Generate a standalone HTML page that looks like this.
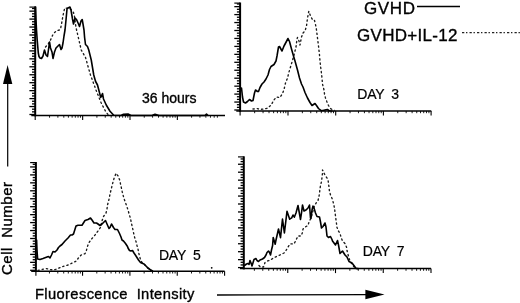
<!DOCTYPE html>
<html><head><meta charset="utf-8"><style>
html,body{margin:0;padding:0;background:#fff;}
.tx{filter:grayscale(1);}
body{width:520px;height:303px;overflow:hidden;position:relative;font-family:"Liberation Sans",sans-serif;color:#000;}
svg{position:absolute;left:0;top:0;}
.t{position:absolute;white-space:pre;line-height:1;-webkit-text-stroke:0.35px #000;}
</style></head><body>
<svg width="520" height="303" viewBox="0 0 520 303">
<line x1="35.20" y1="6.50" x2="35.20" y2="116.30" stroke="#000" stroke-width="2.0" />
<line x1="29.40" y1="114.50" x2="35.20" y2="114.50" stroke="#000" stroke-width="1.3" />
<line x1="32.00" y1="111.85" x2="35.20" y2="111.85" stroke="#000" stroke-width="1.3" />
<line x1="32.00" y1="109.20" x2="35.20" y2="109.20" stroke="#000" stroke-width="1.3" />
<line x1="29.40" y1="106.55" x2="35.20" y2="106.55" stroke="#000" stroke-width="1.3" />
<line x1="32.00" y1="103.90" x2="35.20" y2="103.90" stroke="#000" stroke-width="1.3" />
<line x1="32.00" y1="101.25" x2="35.20" y2="101.25" stroke="#000" stroke-width="1.3" />
<line x1="29.40" y1="98.60" x2="35.20" y2="98.60" stroke="#000" stroke-width="1.3" />
<line x1="32.00" y1="95.95" x2="35.20" y2="95.95" stroke="#000" stroke-width="1.3" />
<line x1="32.00" y1="93.30" x2="35.20" y2="93.30" stroke="#000" stroke-width="1.3" />
<line x1="29.40" y1="90.65" x2="35.20" y2="90.65" stroke="#000" stroke-width="1.3" />
<line x1="32.00" y1="88.00" x2="35.20" y2="88.00" stroke="#000" stroke-width="1.3" />
<line x1="32.00" y1="85.35" x2="35.20" y2="85.35" stroke="#000" stroke-width="1.3" />
<line x1="29.40" y1="82.70" x2="35.20" y2="82.70" stroke="#000" stroke-width="1.3" />
<line x1="32.00" y1="80.05" x2="35.20" y2="80.05" stroke="#000" stroke-width="1.3" />
<line x1="32.00" y1="77.40" x2="35.20" y2="77.40" stroke="#000" stroke-width="1.3" />
<line x1="29.40" y1="74.75" x2="35.20" y2="74.75" stroke="#000" stroke-width="1.3" />
<line x1="32.00" y1="72.10" x2="35.20" y2="72.10" stroke="#000" stroke-width="1.3" />
<line x1="32.00" y1="69.45" x2="35.20" y2="69.45" stroke="#000" stroke-width="1.3" />
<line x1="29.40" y1="66.80" x2="35.20" y2="66.80" stroke="#000" stroke-width="1.3" />
<line x1="32.00" y1="64.15" x2="35.20" y2="64.15" stroke="#000" stroke-width="1.3" />
<line x1="32.00" y1="61.50" x2="35.20" y2="61.50" stroke="#000" stroke-width="1.3" />
<line x1="29.40" y1="58.85" x2="35.20" y2="58.85" stroke="#000" stroke-width="1.3" />
<line x1="32.00" y1="56.20" x2="35.20" y2="56.20" stroke="#000" stroke-width="1.3" />
<line x1="32.00" y1="53.55" x2="35.20" y2="53.55" stroke="#000" stroke-width="1.3" />
<line x1="29.40" y1="50.90" x2="35.20" y2="50.90" stroke="#000" stroke-width="1.3" />
<line x1="32.00" y1="48.25" x2="35.20" y2="48.25" stroke="#000" stroke-width="1.3" />
<line x1="32.00" y1="45.60" x2="35.20" y2="45.60" stroke="#000" stroke-width="1.3" />
<line x1="29.40" y1="42.95" x2="35.20" y2="42.95" stroke="#000" stroke-width="1.3" />
<line x1="32.00" y1="40.30" x2="35.20" y2="40.30" stroke="#000" stroke-width="1.3" />
<line x1="32.00" y1="37.65" x2="35.20" y2="37.65" stroke="#000" stroke-width="1.3" />
<line x1="29.40" y1="35.00" x2="35.20" y2="35.00" stroke="#000" stroke-width="1.3" />
<line x1="32.00" y1="32.35" x2="35.20" y2="32.35" stroke="#000" stroke-width="1.3" />
<line x1="32.00" y1="29.70" x2="35.20" y2="29.70" stroke="#000" stroke-width="1.3" />
<line x1="29.40" y1="27.05" x2="35.20" y2="27.05" stroke="#000" stroke-width="1.3" />
<line x1="32.00" y1="24.40" x2="35.20" y2="24.40" stroke="#000" stroke-width="1.3" />
<line x1="32.00" y1="21.75" x2="35.20" y2="21.75" stroke="#000" stroke-width="1.3" />
<line x1="29.40" y1="19.10" x2="35.20" y2="19.10" stroke="#000" stroke-width="1.3" />
<line x1="32.00" y1="16.45" x2="35.20" y2="16.45" stroke="#000" stroke-width="1.3" />
<line x1="32.00" y1="13.80" x2="35.20" y2="13.80" stroke="#000" stroke-width="1.3" />
<line x1="29.40" y1="11.15" x2="35.20" y2="11.15" stroke="#000" stroke-width="1.3" />
<line x1="32.00" y1="8.50" x2="35.20" y2="8.50" stroke="#000" stroke-width="1.3" />
<line x1="29.40" y1="7.10" x2="35.20" y2="7.10" stroke="#000" stroke-width="1.15" />
<line x1="31.30" y1="115.50" x2="225.00" y2="115.50" stroke="#000" stroke-width="1.5" />
<line x1="49.55" y1="115.50" x2="49.55" y2="117.70" stroke="#000" stroke-width="0.9" />
<line x1="57.89" y1="115.50" x2="57.89" y2="117.70" stroke="#000" stroke-width="0.9" />
<line x1="63.81" y1="115.50" x2="63.81" y2="117.70" stroke="#000" stroke-width="0.9" />
<line x1="68.40" y1="115.50" x2="68.40" y2="117.70" stroke="#000" stroke-width="0.9" />
<line x1="72.15" y1="115.50" x2="72.15" y2="117.70" stroke="#000" stroke-width="0.9" />
<line x1="75.32" y1="115.50" x2="75.32" y2="117.70" stroke="#000" stroke-width="0.9" />
<line x1="78.06" y1="115.50" x2="78.06" y2="117.70" stroke="#000" stroke-width="0.9" />
<line x1="80.48" y1="115.50" x2="80.48" y2="117.70" stroke="#000" stroke-width="0.9" />
<line x1="82.65" y1="115.50" x2="82.65" y2="120.00" stroke="#000" stroke-width="1.1" />
<line x1="96.90" y1="115.50" x2="96.90" y2="117.70" stroke="#000" stroke-width="0.9" />
<line x1="105.24" y1="115.50" x2="105.24" y2="117.70" stroke="#000" stroke-width="0.9" />
<line x1="111.16" y1="115.50" x2="111.16" y2="117.70" stroke="#000" stroke-width="0.9" />
<line x1="115.75" y1="115.50" x2="115.75" y2="117.70" stroke="#000" stroke-width="0.9" />
<line x1="119.50" y1="115.50" x2="119.50" y2="117.70" stroke="#000" stroke-width="0.9" />
<line x1="122.67" y1="115.50" x2="122.67" y2="117.70" stroke="#000" stroke-width="0.9" />
<line x1="125.41" y1="115.50" x2="125.41" y2="117.70" stroke="#000" stroke-width="0.9" />
<line x1="127.83" y1="115.50" x2="127.83" y2="117.70" stroke="#000" stroke-width="0.9" />
<line x1="130.00" y1="115.50" x2="130.00" y2="120.00" stroke="#000" stroke-width="1.1" />
<line x1="144.25" y1="115.50" x2="144.25" y2="117.70" stroke="#000" stroke-width="0.9" />
<line x1="152.59" y1="115.50" x2="152.59" y2="117.70" stroke="#000" stroke-width="0.9" />
<line x1="158.51" y1="115.50" x2="158.51" y2="117.70" stroke="#000" stroke-width="0.9" />
<line x1="163.10" y1="115.50" x2="163.10" y2="117.70" stroke="#000" stroke-width="0.9" />
<line x1="166.85" y1="115.50" x2="166.85" y2="117.70" stroke="#000" stroke-width="0.9" />
<line x1="170.02" y1="115.50" x2="170.02" y2="117.70" stroke="#000" stroke-width="0.9" />
<line x1="172.76" y1="115.50" x2="172.76" y2="117.70" stroke="#000" stroke-width="0.9" />
<line x1="175.18" y1="115.50" x2="175.18" y2="117.70" stroke="#000" stroke-width="0.9" />
<line x1="177.35" y1="115.50" x2="177.35" y2="120.00" stroke="#000" stroke-width="1.1" />
<line x1="191.60" y1="115.50" x2="191.60" y2="117.70" stroke="#000" stroke-width="0.9" />
<line x1="199.94" y1="115.50" x2="199.94" y2="117.70" stroke="#000" stroke-width="0.9" />
<line x1="205.86" y1="115.50" x2="205.86" y2="117.70" stroke="#000" stroke-width="0.9" />
<line x1="210.45" y1="115.50" x2="210.45" y2="117.70" stroke="#000" stroke-width="0.9" />
<line x1="214.20" y1="115.50" x2="214.20" y2="117.70" stroke="#000" stroke-width="0.9" />
<line x1="217.37" y1="115.50" x2="217.37" y2="117.70" stroke="#000" stroke-width="0.9" />
<line x1="35.20" y1="115.50" x2="35.20" y2="120.00" stroke="#000" stroke-width="1.1" />
<line x1="240.10" y1="2.50" x2="240.10" y2="111.80" stroke="#000" stroke-width="2.0" />
<line x1="234.30" y1="110.00" x2="240.10" y2="110.00" stroke="#000" stroke-width="1.3" />
<line x1="236.90" y1="107.35" x2="240.10" y2="107.35" stroke="#000" stroke-width="1.3" />
<line x1="236.90" y1="104.70" x2="240.10" y2="104.70" stroke="#000" stroke-width="1.3" />
<line x1="234.30" y1="102.05" x2="240.10" y2="102.05" stroke="#000" stroke-width="1.3" />
<line x1="236.90" y1="99.40" x2="240.10" y2="99.40" stroke="#000" stroke-width="1.3" />
<line x1="236.90" y1="96.75" x2="240.10" y2="96.75" stroke="#000" stroke-width="1.3" />
<line x1="234.30" y1="94.10" x2="240.10" y2="94.10" stroke="#000" stroke-width="1.3" />
<line x1="236.90" y1="91.45" x2="240.10" y2="91.45" stroke="#000" stroke-width="1.3" />
<line x1="236.90" y1="88.80" x2="240.10" y2="88.80" stroke="#000" stroke-width="1.3" />
<line x1="234.30" y1="86.15" x2="240.10" y2="86.15" stroke="#000" stroke-width="1.3" />
<line x1="236.90" y1="83.50" x2="240.10" y2="83.50" stroke="#000" stroke-width="1.3" />
<line x1="236.90" y1="80.85" x2="240.10" y2="80.85" stroke="#000" stroke-width="1.3" />
<line x1="234.30" y1="78.20" x2="240.10" y2="78.20" stroke="#000" stroke-width="1.3" />
<line x1="236.90" y1="75.55" x2="240.10" y2="75.55" stroke="#000" stroke-width="1.3" />
<line x1="236.90" y1="72.90" x2="240.10" y2="72.90" stroke="#000" stroke-width="1.3" />
<line x1="234.30" y1="70.25" x2="240.10" y2="70.25" stroke="#000" stroke-width="1.3" />
<line x1="236.90" y1="67.60" x2="240.10" y2="67.60" stroke="#000" stroke-width="1.3" />
<line x1="236.90" y1="64.95" x2="240.10" y2="64.95" stroke="#000" stroke-width="1.3" />
<line x1="234.30" y1="62.30" x2="240.10" y2="62.30" stroke="#000" stroke-width="1.3" />
<line x1="236.90" y1="59.65" x2="240.10" y2="59.65" stroke="#000" stroke-width="1.3" />
<line x1="236.90" y1="57.00" x2="240.10" y2="57.00" stroke="#000" stroke-width="1.3" />
<line x1="234.30" y1="54.35" x2="240.10" y2="54.35" stroke="#000" stroke-width="1.3" />
<line x1="236.90" y1="51.70" x2="240.10" y2="51.70" stroke="#000" stroke-width="1.3" />
<line x1="236.90" y1="49.05" x2="240.10" y2="49.05" stroke="#000" stroke-width="1.3" />
<line x1="234.30" y1="46.40" x2="240.10" y2="46.40" stroke="#000" stroke-width="1.3" />
<line x1="236.90" y1="43.75" x2="240.10" y2="43.75" stroke="#000" stroke-width="1.3" />
<line x1="236.90" y1="41.10" x2="240.10" y2="41.10" stroke="#000" stroke-width="1.3" />
<line x1="234.30" y1="38.45" x2="240.10" y2="38.45" stroke="#000" stroke-width="1.3" />
<line x1="236.90" y1="35.80" x2="240.10" y2="35.80" stroke="#000" stroke-width="1.3" />
<line x1="236.90" y1="33.15" x2="240.10" y2="33.15" stroke="#000" stroke-width="1.3" />
<line x1="234.30" y1="30.50" x2="240.10" y2="30.50" stroke="#000" stroke-width="1.3" />
<line x1="236.90" y1="27.85" x2="240.10" y2="27.85" stroke="#000" stroke-width="1.3" />
<line x1="236.90" y1="25.20" x2="240.10" y2="25.20" stroke="#000" stroke-width="1.3" />
<line x1="234.30" y1="22.55" x2="240.10" y2="22.55" stroke="#000" stroke-width="1.3" />
<line x1="236.90" y1="19.90" x2="240.10" y2="19.90" stroke="#000" stroke-width="1.3" />
<line x1="236.90" y1="17.25" x2="240.10" y2="17.25" stroke="#000" stroke-width="1.3" />
<line x1="234.30" y1="14.60" x2="240.10" y2="14.60" stroke="#000" stroke-width="1.3" />
<line x1="236.90" y1="11.95" x2="240.10" y2="11.95" stroke="#000" stroke-width="1.3" />
<line x1="236.90" y1="9.30" x2="240.10" y2="9.30" stroke="#000" stroke-width="1.3" />
<line x1="234.30" y1="6.65" x2="240.10" y2="6.65" stroke="#000" stroke-width="1.3" />
<line x1="236.90" y1="4.00" x2="240.10" y2="4.00" stroke="#000" stroke-width="1.3" />
<line x1="234.30" y1="3.10" x2="240.10" y2="3.10" stroke="#000" stroke-width="1.15" />
<line x1="236.30" y1="111.00" x2="431.30" y2="111.00" stroke="#000" stroke-width="1.5" />
<line x1="254.66" y1="111.00" x2="254.66" y2="113.20" stroke="#000" stroke-width="0.9" />
<line x1="263.06" y1="111.00" x2="263.06" y2="113.20" stroke="#000" stroke-width="0.9" />
<line x1="269.02" y1="111.00" x2="269.02" y2="113.20" stroke="#000" stroke-width="0.9" />
<line x1="273.64" y1="111.00" x2="273.64" y2="113.20" stroke="#000" stroke-width="0.9" />
<line x1="277.42" y1="111.00" x2="277.42" y2="113.20" stroke="#000" stroke-width="0.9" />
<line x1="280.61" y1="111.00" x2="280.61" y2="113.20" stroke="#000" stroke-width="0.9" />
<line x1="283.38" y1="111.00" x2="283.38" y2="113.20" stroke="#000" stroke-width="0.9" />
<line x1="285.82" y1="111.00" x2="285.82" y2="113.20" stroke="#000" stroke-width="0.9" />
<line x1="288.00" y1="111.00" x2="288.00" y2="115.50" stroke="#000" stroke-width="1.1" />
<line x1="302.36" y1="111.00" x2="302.36" y2="113.20" stroke="#000" stroke-width="0.9" />
<line x1="310.76" y1="111.00" x2="310.76" y2="113.20" stroke="#000" stroke-width="0.9" />
<line x1="316.72" y1="111.00" x2="316.72" y2="113.20" stroke="#000" stroke-width="0.9" />
<line x1="321.34" y1="111.00" x2="321.34" y2="113.20" stroke="#000" stroke-width="0.9" />
<line x1="325.12" y1="111.00" x2="325.12" y2="113.20" stroke="#000" stroke-width="0.9" />
<line x1="328.31" y1="111.00" x2="328.31" y2="113.20" stroke="#000" stroke-width="0.9" />
<line x1="331.08" y1="111.00" x2="331.08" y2="113.20" stroke="#000" stroke-width="0.9" />
<line x1="333.52" y1="111.00" x2="333.52" y2="113.20" stroke="#000" stroke-width="0.9" />
<line x1="335.70" y1="111.00" x2="335.70" y2="115.50" stroke="#000" stroke-width="1.1" />
<line x1="350.06" y1="111.00" x2="350.06" y2="113.20" stroke="#000" stroke-width="0.9" />
<line x1="358.46" y1="111.00" x2="358.46" y2="113.20" stroke="#000" stroke-width="0.9" />
<line x1="364.42" y1="111.00" x2="364.42" y2="113.20" stroke="#000" stroke-width="0.9" />
<line x1="369.04" y1="111.00" x2="369.04" y2="113.20" stroke="#000" stroke-width="0.9" />
<line x1="372.82" y1="111.00" x2="372.82" y2="113.20" stroke="#000" stroke-width="0.9" />
<line x1="376.01" y1="111.00" x2="376.01" y2="113.20" stroke="#000" stroke-width="0.9" />
<line x1="378.78" y1="111.00" x2="378.78" y2="113.20" stroke="#000" stroke-width="0.9" />
<line x1="381.22" y1="111.00" x2="381.22" y2="113.20" stroke="#000" stroke-width="0.9" />
<line x1="383.40" y1="111.00" x2="383.40" y2="115.50" stroke="#000" stroke-width="1.1" />
<line x1="397.76" y1="111.00" x2="397.76" y2="113.20" stroke="#000" stroke-width="0.9" />
<line x1="406.16" y1="111.00" x2="406.16" y2="113.20" stroke="#000" stroke-width="0.9" />
<line x1="412.12" y1="111.00" x2="412.12" y2="113.20" stroke="#000" stroke-width="0.9" />
<line x1="416.74" y1="111.00" x2="416.74" y2="113.20" stroke="#000" stroke-width="0.9" />
<line x1="420.52" y1="111.00" x2="420.52" y2="113.20" stroke="#000" stroke-width="0.9" />
<line x1="423.71" y1="111.00" x2="423.71" y2="113.20" stroke="#000" stroke-width="0.9" />
<line x1="426.48" y1="111.00" x2="426.48" y2="113.20" stroke="#000" stroke-width="0.9" />
<line x1="428.92" y1="111.00" x2="428.92" y2="113.20" stroke="#000" stroke-width="0.9" />
<line x1="431.10" y1="111.00" x2="431.10" y2="115.50" stroke="#000" stroke-width="1.1" />
<line x1="240.10" y1="111.00" x2="240.10" y2="115.50" stroke="#000" stroke-width="1.1" />
<line x1="35.90" y1="162.00" x2="35.90" y2="272.10" stroke="#000" stroke-width="2.0" />
<line x1="30.10" y1="270.30" x2="35.90" y2="270.30" stroke="#000" stroke-width="1.3" />
<line x1="32.70" y1="267.65" x2="35.90" y2="267.65" stroke="#000" stroke-width="1.3" />
<line x1="32.70" y1="265.00" x2="35.90" y2="265.00" stroke="#000" stroke-width="1.3" />
<line x1="30.10" y1="262.35" x2="35.90" y2="262.35" stroke="#000" stroke-width="1.3" />
<line x1="32.70" y1="259.70" x2="35.90" y2="259.70" stroke="#000" stroke-width="1.3" />
<line x1="32.70" y1="257.05" x2="35.90" y2="257.05" stroke="#000" stroke-width="1.3" />
<line x1="30.10" y1="254.40" x2="35.90" y2="254.40" stroke="#000" stroke-width="1.3" />
<line x1="32.70" y1="251.75" x2="35.90" y2="251.75" stroke="#000" stroke-width="1.3" />
<line x1="32.70" y1="249.10" x2="35.90" y2="249.10" stroke="#000" stroke-width="1.3" />
<line x1="30.10" y1="246.45" x2="35.90" y2="246.45" stroke="#000" stroke-width="1.3" />
<line x1="32.70" y1="243.80" x2="35.90" y2="243.80" stroke="#000" stroke-width="1.3" />
<line x1="32.70" y1="241.15" x2="35.90" y2="241.15" stroke="#000" stroke-width="1.3" />
<line x1="30.10" y1="238.50" x2="35.90" y2="238.50" stroke="#000" stroke-width="1.3" />
<line x1="32.70" y1="235.85" x2="35.90" y2="235.85" stroke="#000" stroke-width="1.3" />
<line x1="32.70" y1="233.20" x2="35.90" y2="233.20" stroke="#000" stroke-width="1.3" />
<line x1="30.10" y1="230.55" x2="35.90" y2="230.55" stroke="#000" stroke-width="1.3" />
<line x1="32.70" y1="227.90" x2="35.90" y2="227.90" stroke="#000" stroke-width="1.3" />
<line x1="32.70" y1="225.25" x2="35.90" y2="225.25" stroke="#000" stroke-width="1.3" />
<line x1="30.10" y1="222.60" x2="35.90" y2="222.60" stroke="#000" stroke-width="1.3" />
<line x1="32.70" y1="219.95" x2="35.90" y2="219.95" stroke="#000" stroke-width="1.3" />
<line x1="32.70" y1="217.30" x2="35.90" y2="217.30" stroke="#000" stroke-width="1.3" />
<line x1="30.10" y1="214.65" x2="35.90" y2="214.65" stroke="#000" stroke-width="1.3" />
<line x1="32.70" y1="212.00" x2="35.90" y2="212.00" stroke="#000" stroke-width="1.3" />
<line x1="32.70" y1="209.35" x2="35.90" y2="209.35" stroke="#000" stroke-width="1.3" />
<line x1="30.10" y1="206.70" x2="35.90" y2="206.70" stroke="#000" stroke-width="1.3" />
<line x1="32.70" y1="204.05" x2="35.90" y2="204.05" stroke="#000" stroke-width="1.3" />
<line x1="32.70" y1="201.40" x2="35.90" y2="201.40" stroke="#000" stroke-width="1.3" />
<line x1="30.10" y1="198.75" x2="35.90" y2="198.75" stroke="#000" stroke-width="1.3" />
<line x1="32.70" y1="196.10" x2="35.90" y2="196.10" stroke="#000" stroke-width="1.3" />
<line x1="32.70" y1="193.45" x2="35.90" y2="193.45" stroke="#000" stroke-width="1.3" />
<line x1="30.10" y1="190.80" x2="35.90" y2="190.80" stroke="#000" stroke-width="1.3" />
<line x1="32.70" y1="188.15" x2="35.90" y2="188.15" stroke="#000" stroke-width="1.3" />
<line x1="32.70" y1="185.50" x2="35.90" y2="185.50" stroke="#000" stroke-width="1.3" />
<line x1="30.10" y1="182.85" x2="35.90" y2="182.85" stroke="#000" stroke-width="1.3" />
<line x1="32.70" y1="180.20" x2="35.90" y2="180.20" stroke="#000" stroke-width="1.3" />
<line x1="32.70" y1="177.55" x2="35.90" y2="177.55" stroke="#000" stroke-width="1.3" />
<line x1="30.10" y1="174.90" x2="35.90" y2="174.90" stroke="#000" stroke-width="1.3" />
<line x1="32.70" y1="172.25" x2="35.90" y2="172.25" stroke="#000" stroke-width="1.3" />
<line x1="32.70" y1="169.60" x2="35.90" y2="169.60" stroke="#000" stroke-width="1.3" />
<line x1="30.10" y1="166.95" x2="35.90" y2="166.95" stroke="#000" stroke-width="1.3" />
<line x1="32.70" y1="164.30" x2="35.90" y2="164.30" stroke="#000" stroke-width="1.3" />
<line x1="30.10" y1="162.60" x2="35.90" y2="162.60" stroke="#000" stroke-width="1.15" />
<line x1="31.20" y1="271.30" x2="224.60" y2="271.30" stroke="#000" stroke-width="1.5" />
<line x1="49.45" y1="271.30" x2="49.45" y2="273.50" stroke="#000" stroke-width="0.9" />
<line x1="57.79" y1="271.30" x2="57.79" y2="273.50" stroke="#000" stroke-width="0.9" />
<line x1="63.71" y1="271.30" x2="63.71" y2="273.50" stroke="#000" stroke-width="0.9" />
<line x1="68.30" y1="271.30" x2="68.30" y2="273.50" stroke="#000" stroke-width="0.9" />
<line x1="72.05" y1="271.30" x2="72.05" y2="273.50" stroke="#000" stroke-width="0.9" />
<line x1="75.22" y1="271.30" x2="75.22" y2="273.50" stroke="#000" stroke-width="0.9" />
<line x1="77.96" y1="271.30" x2="77.96" y2="273.50" stroke="#000" stroke-width="0.9" />
<line x1="80.38" y1="271.30" x2="80.38" y2="273.50" stroke="#000" stroke-width="0.9" />
<line x1="82.55" y1="271.30" x2="82.55" y2="275.80" stroke="#000" stroke-width="1.1" />
<line x1="96.80" y1="271.30" x2="96.80" y2="273.50" stroke="#000" stroke-width="0.9" />
<line x1="105.14" y1="271.30" x2="105.14" y2="273.50" stroke="#000" stroke-width="0.9" />
<line x1="111.06" y1="271.30" x2="111.06" y2="273.50" stroke="#000" stroke-width="0.9" />
<line x1="115.65" y1="271.30" x2="115.65" y2="273.50" stroke="#000" stroke-width="0.9" />
<line x1="119.40" y1="271.30" x2="119.40" y2="273.50" stroke="#000" stroke-width="0.9" />
<line x1="122.57" y1="271.30" x2="122.57" y2="273.50" stroke="#000" stroke-width="0.9" />
<line x1="125.31" y1="271.30" x2="125.31" y2="273.50" stroke="#000" stroke-width="0.9" />
<line x1="127.73" y1="271.30" x2="127.73" y2="273.50" stroke="#000" stroke-width="0.9" />
<line x1="129.90" y1="271.30" x2="129.90" y2="275.80" stroke="#000" stroke-width="1.1" />
<line x1="144.15" y1="271.30" x2="144.15" y2="273.50" stroke="#000" stroke-width="0.9" />
<line x1="152.49" y1="271.30" x2="152.49" y2="273.50" stroke="#000" stroke-width="0.9" />
<line x1="158.41" y1="271.30" x2="158.41" y2="273.50" stroke="#000" stroke-width="0.9" />
<line x1="163.00" y1="271.30" x2="163.00" y2="273.50" stroke="#000" stroke-width="0.9" />
<line x1="166.75" y1="271.30" x2="166.75" y2="273.50" stroke="#000" stroke-width="0.9" />
<line x1="169.92" y1="271.30" x2="169.92" y2="273.50" stroke="#000" stroke-width="0.9" />
<line x1="172.66" y1="271.30" x2="172.66" y2="273.50" stroke="#000" stroke-width="0.9" />
<line x1="175.08" y1="271.30" x2="175.08" y2="273.50" stroke="#000" stroke-width="0.9" />
<line x1="177.25" y1="271.30" x2="177.25" y2="275.80" stroke="#000" stroke-width="1.1" />
<line x1="191.50" y1="271.30" x2="191.50" y2="273.50" stroke="#000" stroke-width="0.9" />
<line x1="199.84" y1="271.30" x2="199.84" y2="273.50" stroke="#000" stroke-width="0.9" />
<line x1="205.76" y1="271.30" x2="205.76" y2="273.50" stroke="#000" stroke-width="0.9" />
<line x1="210.35" y1="271.30" x2="210.35" y2="273.50" stroke="#000" stroke-width="0.9" />
<line x1="214.10" y1="271.30" x2="214.10" y2="273.50" stroke="#000" stroke-width="0.9" />
<line x1="217.27" y1="271.30" x2="217.27" y2="273.50" stroke="#000" stroke-width="0.9" />
<line x1="220.01" y1="271.30" x2="220.01" y2="273.50" stroke="#000" stroke-width="0.9" />
<line x1="222.43" y1="271.30" x2="222.43" y2="273.50" stroke="#000" stroke-width="0.9" />
<line x1="224.60" y1="271.30" x2="224.60" y2="275.80" stroke="#000" stroke-width="1.1" />
<line x1="35.90" y1="271.30" x2="35.90" y2="275.80" stroke="#000" stroke-width="1.1" />
<line x1="243.80" y1="156.30" x2="243.80" y2="269.40" stroke="#000" stroke-width="2.0" />
<line x1="238.00" y1="267.60" x2="243.80" y2="267.60" stroke="#000" stroke-width="1.3" />
<line x1="240.60" y1="264.95" x2="243.80" y2="264.95" stroke="#000" stroke-width="1.3" />
<line x1="240.60" y1="262.30" x2="243.80" y2="262.30" stroke="#000" stroke-width="1.3" />
<line x1="238.00" y1="259.65" x2="243.80" y2="259.65" stroke="#000" stroke-width="1.3" />
<line x1="240.60" y1="257.00" x2="243.80" y2="257.00" stroke="#000" stroke-width="1.3" />
<line x1="240.60" y1="254.35" x2="243.80" y2="254.35" stroke="#000" stroke-width="1.3" />
<line x1="238.00" y1="251.70" x2="243.80" y2="251.70" stroke="#000" stroke-width="1.3" />
<line x1="240.60" y1="249.05" x2="243.80" y2="249.05" stroke="#000" stroke-width="1.3" />
<line x1="240.60" y1="246.40" x2="243.80" y2="246.40" stroke="#000" stroke-width="1.3" />
<line x1="238.00" y1="243.75" x2="243.80" y2="243.75" stroke="#000" stroke-width="1.3" />
<line x1="240.60" y1="241.10" x2="243.80" y2="241.10" stroke="#000" stroke-width="1.3" />
<line x1="240.60" y1="238.45" x2="243.80" y2="238.45" stroke="#000" stroke-width="1.3" />
<line x1="238.00" y1="235.80" x2="243.80" y2="235.80" stroke="#000" stroke-width="1.3" />
<line x1="240.60" y1="233.15" x2="243.80" y2="233.15" stroke="#000" stroke-width="1.3" />
<line x1="240.60" y1="230.50" x2="243.80" y2="230.50" stroke="#000" stroke-width="1.3" />
<line x1="238.00" y1="227.85" x2="243.80" y2="227.85" stroke="#000" stroke-width="1.3" />
<line x1="240.60" y1="225.20" x2="243.80" y2="225.20" stroke="#000" stroke-width="1.3" />
<line x1="240.60" y1="222.55" x2="243.80" y2="222.55" stroke="#000" stroke-width="1.3" />
<line x1="238.00" y1="219.90" x2="243.80" y2="219.90" stroke="#000" stroke-width="1.3" />
<line x1="240.60" y1="217.25" x2="243.80" y2="217.25" stroke="#000" stroke-width="1.3" />
<line x1="240.60" y1="214.60" x2="243.80" y2="214.60" stroke="#000" stroke-width="1.3" />
<line x1="238.00" y1="211.95" x2="243.80" y2="211.95" stroke="#000" stroke-width="1.3" />
<line x1="240.60" y1="209.30" x2="243.80" y2="209.30" stroke="#000" stroke-width="1.3" />
<line x1="240.60" y1="206.65" x2="243.80" y2="206.65" stroke="#000" stroke-width="1.3" />
<line x1="238.00" y1="204.00" x2="243.80" y2="204.00" stroke="#000" stroke-width="1.3" />
<line x1="240.60" y1="201.35" x2="243.80" y2="201.35" stroke="#000" stroke-width="1.3" />
<line x1="240.60" y1="198.70" x2="243.80" y2="198.70" stroke="#000" stroke-width="1.3" />
<line x1="238.00" y1="196.05" x2="243.80" y2="196.05" stroke="#000" stroke-width="1.3" />
<line x1="240.60" y1="193.40" x2="243.80" y2="193.40" stroke="#000" stroke-width="1.3" />
<line x1="240.60" y1="190.75" x2="243.80" y2="190.75" stroke="#000" stroke-width="1.3" />
<line x1="238.00" y1="188.10" x2="243.80" y2="188.10" stroke="#000" stroke-width="1.3" />
<line x1="240.60" y1="185.45" x2="243.80" y2="185.45" stroke="#000" stroke-width="1.3" />
<line x1="240.60" y1="182.80" x2="243.80" y2="182.80" stroke="#000" stroke-width="1.3" />
<line x1="238.00" y1="180.15" x2="243.80" y2="180.15" stroke="#000" stroke-width="1.3" />
<line x1="240.60" y1="177.50" x2="243.80" y2="177.50" stroke="#000" stroke-width="1.3" />
<line x1="240.60" y1="174.85" x2="243.80" y2="174.85" stroke="#000" stroke-width="1.3" />
<line x1="238.00" y1="172.20" x2="243.80" y2="172.20" stroke="#000" stroke-width="1.3" />
<line x1="240.60" y1="169.55" x2="243.80" y2="169.55" stroke="#000" stroke-width="1.3" />
<line x1="240.60" y1="166.90" x2="243.80" y2="166.90" stroke="#000" stroke-width="1.3" />
<line x1="238.00" y1="164.25" x2="243.80" y2="164.25" stroke="#000" stroke-width="1.3" />
<line x1="240.60" y1="161.60" x2="243.80" y2="161.60" stroke="#000" stroke-width="1.3" />
<line x1="240.60" y1="158.95" x2="243.80" y2="158.95" stroke="#000" stroke-width="1.3" />
<line x1="238.00" y1="156.90" x2="243.80" y2="156.90" stroke="#000" stroke-width="1.15" />
<line x1="240.00" y1="268.60" x2="431.00" y2="268.60" stroke="#000" stroke-width="1.5" />
<line x1="254.37" y1="268.60" x2="254.37" y2="270.80" stroke="#000" stroke-width="0.9" />
<line x1="262.78" y1="268.60" x2="262.78" y2="270.80" stroke="#000" stroke-width="0.9" />
<line x1="268.75" y1="268.60" x2="268.75" y2="270.80" stroke="#000" stroke-width="0.9" />
<line x1="273.38" y1="268.60" x2="273.38" y2="270.80" stroke="#000" stroke-width="0.9" />
<line x1="277.16" y1="268.60" x2="277.16" y2="270.80" stroke="#000" stroke-width="0.9" />
<line x1="280.35" y1="268.60" x2="280.35" y2="270.80" stroke="#000" stroke-width="0.9" />
<line x1="283.12" y1="268.60" x2="283.12" y2="270.80" stroke="#000" stroke-width="0.9" />
<line x1="285.57" y1="268.60" x2="285.57" y2="270.80" stroke="#000" stroke-width="0.9" />
<line x1="287.75" y1="268.60" x2="287.75" y2="273.10" stroke="#000" stroke-width="1.1" />
<line x1="302.12" y1="268.60" x2="302.12" y2="270.80" stroke="#000" stroke-width="0.9" />
<line x1="310.53" y1="268.60" x2="310.53" y2="270.80" stroke="#000" stroke-width="0.9" />
<line x1="316.50" y1="268.60" x2="316.50" y2="270.80" stroke="#000" stroke-width="0.9" />
<line x1="321.13" y1="268.60" x2="321.13" y2="270.80" stroke="#000" stroke-width="0.9" />
<line x1="324.91" y1="268.60" x2="324.91" y2="270.80" stroke="#000" stroke-width="0.9" />
<line x1="328.10" y1="268.60" x2="328.10" y2="270.80" stroke="#000" stroke-width="0.9" />
<line x1="330.87" y1="268.60" x2="330.87" y2="270.80" stroke="#000" stroke-width="0.9" />
<line x1="333.32" y1="268.60" x2="333.32" y2="270.80" stroke="#000" stroke-width="0.9" />
<line x1="335.50" y1="268.60" x2="335.50" y2="273.10" stroke="#000" stroke-width="1.1" />
<line x1="349.87" y1="268.60" x2="349.87" y2="270.80" stroke="#000" stroke-width="0.9" />
<line x1="358.28" y1="268.60" x2="358.28" y2="270.80" stroke="#000" stroke-width="0.9" />
<line x1="364.25" y1="268.60" x2="364.25" y2="270.80" stroke="#000" stroke-width="0.9" />
<line x1="368.88" y1="268.60" x2="368.88" y2="270.80" stroke="#000" stroke-width="0.9" />
<line x1="372.66" y1="268.60" x2="372.66" y2="270.80" stroke="#000" stroke-width="0.9" />
<line x1="375.85" y1="268.60" x2="375.85" y2="270.80" stroke="#000" stroke-width="0.9" />
<line x1="378.62" y1="268.60" x2="378.62" y2="270.80" stroke="#000" stroke-width="0.9" />
<line x1="381.07" y1="268.60" x2="381.07" y2="270.80" stroke="#000" stroke-width="0.9" />
<line x1="383.25" y1="268.60" x2="383.25" y2="273.10" stroke="#000" stroke-width="1.1" />
<line x1="397.62" y1="268.60" x2="397.62" y2="270.80" stroke="#000" stroke-width="0.9" />
<line x1="406.03" y1="268.60" x2="406.03" y2="270.80" stroke="#000" stroke-width="0.9" />
<line x1="412.00" y1="268.60" x2="412.00" y2="270.80" stroke="#000" stroke-width="0.9" />
<line x1="416.63" y1="268.60" x2="416.63" y2="270.80" stroke="#000" stroke-width="0.9" />
<line x1="420.41" y1="268.60" x2="420.41" y2="270.80" stroke="#000" stroke-width="0.9" />
<line x1="423.60" y1="268.60" x2="423.60" y2="270.80" stroke="#000" stroke-width="0.9" />
<line x1="426.37" y1="268.60" x2="426.37" y2="270.80" stroke="#000" stroke-width="0.9" />
<line x1="428.82" y1="268.60" x2="428.82" y2="270.80" stroke="#000" stroke-width="0.9" />
<line x1="431.00" y1="268.60" x2="431.00" y2="273.10" stroke="#000" stroke-width="1.1" />
<polyline points="45.50,47.00 48.00,44.50 50.50,40.00 52.50,35.50 54.00,33.00 57.00,30.50 59.50,30.00 60.80,27.50 61.50,24.00 62.20,20.00 62.90,16.00 63.80,12.00 64.70,8.00 66.30,8.20 68.50,8.00 71.00,9.50 73.50,12.50 74.50,16.50 76.00,27.50 78.00,36.00 81.25,50.00 85.50,57.50 90.50,75.00 96.00,90.00 101.00,102.50 105.50,111.25 108.00,114.50 110.00,115.50" fill="none" stroke="#1a1a1a" stroke-width="1.35" stroke-linejoin="round" stroke-linecap="round" stroke-dasharray="1.3 3.0"/>
<polyline points="253.00,109.00 256.50,108.50 260.00,109.30 264.50,109.00 268.00,108.00 271.50,104.50 273.50,100.50 276.50,97.00 280.00,97.50 282.50,93.50 284.00,89.50 285.50,83.00 287.50,78.00 289.00,72.00 290.50,67.00 292.00,62.00 294.00,55.00 296.00,47.00 297.00,39.00 297.50,37.50 299.00,41.00 300.00,45.00 301.50,37.00 303.00,33.00 305.00,31.00 306.50,26.00 307.50,18.00 308.80,11.30 310.50,16.00 313.00,20.50 314.50,20.50 315.50,24.50 316.50,30.00 317.50,38.00 318.50,46.00 319.50,55.00 320.00,61.00 320.50,66.00 321.20,71.00 322.00,78.00 322.50,84.00 323.00,86.00 324.00,90.00 324.50,94.00 325.50,98.00 327.00,102.00 328.50,105.50 330.50,108.50 332.50,109.80 334.50,110.50" fill="none" stroke="#1a1a1a" stroke-width="1.35" stroke-linejoin="round" stroke-linecap="round" stroke-dasharray="1.3 3.0"/>
<polyline points="38.00,270.50 42.00,269.50 46.00,268.50 50.00,269.50 53.50,270.00 57.00,269.00 61.00,267.10 65.00,265.80 69.00,264.80 73.00,262.50 76.20,261.10 78.50,257.90 81.00,255.10 85.00,253.70 86.40,250.50 87.50,246.30 89.00,242.50 92.00,238.50 95.00,235.00 98.00,231.00 100.50,227.50 102.00,221.00 103.50,216.50 106.00,213.00 107.00,209.00 107.50,205.00 108.50,201.50 109.50,197.00 110.00,194.00 111.00,190.00 112.00,186.00 113.00,182.00 114.00,178.50 116.00,173.30 118.00,175.80 119.50,179.50 121.00,186.00 122.30,192.00 123.70,197.50 125.20,202.00 126.70,206.00 128.00,210.00 129.30,214.50 130.50,218.50 131.30,222.50 132.10,226.30 133.00,230.00 133.80,234.00 134.80,238.00 136.00,241.50 137.00,245.50 138.00,249.00 138.50,252.00 139.50,256.00 140.50,259.50 142.00,262.50 144.50,264.50 147.00,267.50 150.00,270.00 152.00,271.30" fill="none" stroke="#1a1a1a" stroke-width="1.35" stroke-linejoin="round" stroke-linecap="round" stroke-dasharray="1.3 3.0"/>
<polyline points="259.00,265.50 260.50,267.00 263.50,267.00 265.00,262.50 267.50,261.00 270.50,260.00 273.50,258.00 278.50,255.50 281.00,254.50 284.00,253.00 286.00,250.50 288.00,247.00 290.00,244.00 292.00,243.80 294.00,244.00 296.50,239.00 298.00,236.00 301.00,236.00 302.50,232.50 303.00,229.00 306.00,226.50 308.00,225.50 309.00,222.00 311.00,218.00 314.50,205.50 316.50,202.50 318.00,200.50 319.00,196.50 319.50,193.00 320.00,189.00 320.50,185.50 321.50,181.50 322.00,177.50 322.50,173.00 322.50,170.00 325.00,175.00 328.00,179.50 328.50,183.50 329.00,187.00 329.50,191.50 330.50,195.00 332.50,199.50 333.50,203.50 334.50,208.00 335.00,212.00 335.50,216.00 336.00,220.00 336.50,223.50 337.00,227.50 338.50,231.00 340.00,233.50 341.00,237.00 342.50,241.00 345.00,243.50 346.50,247.00 347.00,250.50 348.00,254.50 349.00,258.00 350.00,261.00 352.00,264.00 354.00,266.80 357.00,268.50" fill="none" stroke="#1a1a1a" stroke-width="1.35" stroke-linejoin="round" stroke-linecap="round" stroke-dasharray="1.3 3.0"/>
<polyline points="35.50,7.00 36.00,20.00 36.50,30.00 37.20,40.00 38.30,53.00 39.00,56.50 40.00,58.00 41.50,58.50 43.00,56.00 44.50,50.00 46.00,55.00 47.50,56.50 49.00,46.00 49.50,42.00 50.50,48.00 52.00,52.00 53.00,58.50 54.50,52.00 56.00,48.00 58.00,46.00 59.50,44.50 61.00,49.50 62.00,48.00 63.00,43.00 64.00,36.00 65.00,30.00 66.00,20.00 67.00,9.00 68.00,8.00 70.00,7.00 71.00,10.00 72.50,19.00 73.50,24.00 75.00,18.00 76.50,19.50 78.50,24.00 79.50,26.50 81.00,21.00 82.20,19.50 83.00,24.00 84.00,30.00 84.60,37.50 85.50,44.50 87.50,46.50 88.75,50.00 91.25,60.00 93.75,75.00 95.50,81.25 97.50,85.00 100.75,97.50 102.50,93.50 103.50,99.00 106.25,105.00 110.00,111.25 113.75,115.30 121.00,115.50 123.50,114.20 128.00,114.00 131.00,115.50 152.00,115.50 155.00,114.30 159.00,115.50 205.00,115.50 206.50,114.00 208.00,115.50" fill="none" stroke="#000" stroke-width="1.6" stroke-linejoin="round" stroke-linecap="round"/>
<polyline points="241.50,88.00 242.50,97.00 243.50,102.00 245.50,103.00 247.50,101.50 249.50,99.50 251.50,101.00 253.00,100.50 254.50,93.00 255.50,90.00 257.50,91.50 258.50,91.50 260.00,87.50 262.00,84.00 264.00,82.00 266.00,79.00 268.00,75.00 269.50,69.50 271.00,66.50 274.00,64.50 276.00,61.00 277.00,56.00 278.50,47.00 279.50,46.50 282.00,51.00 284.00,46.00 288.00,38.50 289.50,41.50 291.50,49.00 293.50,56.00 295.00,61.00 297.50,70.00 299.50,78.00 301.50,84.00 303.00,87.00 305.00,92.50 307.50,98.00 310.00,102.50 312.00,105.50 313.50,104.50 315.00,103.50 316.50,105.50 318.50,108.50 320.50,110.20 323.00,110.50 326.00,109.80 327.50,109.50 329.50,110.80 332.00,111.00" fill="none" stroke="#000" stroke-width="1.6" stroke-linejoin="round" stroke-linecap="round"/>
<polyline points="36.60,240.00 37.00,250.00 37.60,259.00 40.00,259.50 43.00,258.50 47.00,257.00 48.50,256.50 50.00,258.00 51.50,255.00 53.00,251.50 55.00,252.00 57.00,250.00 58.50,247.50 60.00,246.00 62.00,244.50 65.00,241.00 68.00,238.00 70.50,235.00 72.00,235.00 73.50,234.00 76.00,226.00 78.00,225.20 82.00,225.20 85.00,220.50 88.00,219.50 90.50,218.00 92.00,220.00 94.00,223.00 96.50,223.00 98.00,224.00 100.00,225.50 102.00,224.00 103.50,222.50 105.50,220.50 107.00,224.00 109.00,228.50 110.00,227.50 111.50,224.00 113.50,227.50 115.00,229.50 117.50,229.50 119.50,233.50 121.00,237.00 122.00,240.00 123.50,241.00 125.50,243.50 127.50,246.50 128.00,248.00 129.50,250.50 131.00,251.00 132.50,250.50 134.00,253.00 136.00,256.00 138.50,260.00 140.50,262.50 144.00,264.00 146.00,266.00 148.00,268.00 150.00,269.50 152.50,271.00" fill="none" stroke="#000" stroke-width="1.6" stroke-linejoin="round" stroke-linecap="round"/>
<polyline points="244.50,265.50 246.50,264.00 248.00,263.50 249.00,264.50 250.00,260.50 251.00,263.00 252.00,266.00 254.00,259.50 256.00,258.50 257.00,260.50 258.50,261.50 260.00,260.00 262.50,259.00 264.50,257.50 266.00,255.00 267.00,252.50 268.50,251.00 269.50,252.50 270.50,255.00 271.50,250.00 272.60,245.50 273.20,237.60 275.20,244.20 276.00,240.00 278.50,229.00 280.50,237.60 282.50,219.00 284.40,233.00 287.00,211.30 289.70,219.20 291.70,217.90 293.00,215.00 294.30,217.20 296.00,213.00 298.00,205.50 300.50,219.50 301.50,213.00 302.50,205.00 304.00,211.00 306.00,210.00 308.00,208.00 309.50,205.00 310.50,218.00 311.00,218.50 312.00,210.00 313.00,206.00 314.00,208.00 315.50,213.00 317.00,216.50 319.50,217.00 320.50,222.00 321.50,228.00 323.00,226.50 325.00,223.00 326.00,227.00 327.00,236.00 328.50,237.50 330.50,236.50 332.00,239.50 332.50,241.00 335.50,245.00 337.50,240.50 338.50,245.00 340.00,253.50 342.50,251.00 345.00,255.00 347.00,257.00 349.00,261.50 352.00,263.00 354.50,266.30 356.00,268.40 358.00,268.60" fill="none" stroke="#000" stroke-width="1.6" stroke-linejoin="round" stroke-linecap="round"/>
<circle cx="211.7" cy="267.8" r="0.9" fill="#000"/>
<line x1="417.00" y1="6.50" x2="460.00" y2="6.50" stroke="#000" stroke-width="1.4" />
<line x1="462.00" y1="32.70" x2="520.00" y2="32.70" stroke="#222" stroke-width="1.3" stroke-dasharray="2.3 1.7 1.4 2.1"/>
<line x1="7.70" y1="80.00" x2="7.70" y2="166.50" stroke="#000" stroke-width="1.2" />
<polygon points="7.6,65 3,84 12.3,84" fill="#000"/>
<line x1="217.00" y1="295.00" x2="368.00" y2="294.70" stroke="#000" stroke-width="1.3" />
<polygon points="384.5,294.5 365.4,289.8 365.4,299.2" fill="#000"/>
</svg>
<div class="tx" style="position:absolute;left:0;top:0;width:520px;height:303px;">
<div class="t" style="left:364px;top:0.2px;font-size:17px;letter-spacing:0.6px;">GVHD</div>
<div class="t" style="left:357px;top:27.4px;font-size:17px;letter-spacing:0.3px;">GVHD+IL-12</div>
<div class="t" style="left:142px;top:91px;font-size:14px;">36 hours</div>
<div class="t" style="left:357.3px;top:87.3px;font-size:14px;letter-spacing:-0.25px;-webkit-text-stroke-width:0.2px;">DAY  3</div>
<div class="t" style="left:159px;top:248.3px;font-size:14px;letter-spacing:-0.25px;-webkit-text-stroke-width:0.2px;">DAY  5</div>
<div class="t" style="left:362.8px;top:244.2px;font-size:14px;letter-spacing:-0.25px;-webkit-text-stroke-width:0.2px;">DAY  7</div>
<div class="t" style="left:35px;top:287px;font-size:14.7px;letter-spacing:0.38px;">Fluorescence  Intensity</div>
<div class="t" style="left:-0.7px;top:274.7px;font-size:15px;transform:rotate(-90deg);transform-origin:0 0;letter-spacing:0.5px">Cell  Number</div>
</div>
</body></html>
